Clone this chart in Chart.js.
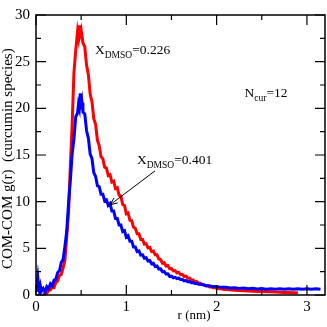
<!DOCTYPE html>
<html><head><meta charset="utf-8">
<script src="https://cdn.jsdelivr.net/npm/chart.js@4/dist/chart.umd.min.js"></script>
<style>html,body{margin:0;padding:0;background:#fff;}canvas{display:block;}</style>
</head><body>
<canvas id="c" width="327" height="327"></canvas>
<script>
// X_DMSO = 0.226 (red)
const rRed = [0.08,0.10,0.12,0.14,0.16,0.18,0.20,0.22,0.24,0.26,0.28,0.30,0.32,0.34,0.36,0.38,0.40,0.42,0.44,0.46,0.47,0.48,0.49,0.50,0.52,0.54,0.56,0.58,0.60,0.62,0.64,0.66,0.68,0.70,0.72,0.74,0.76,0.78,0.80,0.82,0.84,0.86,0.88,0.90,0.92,0.94,0.96,0.98,1.00,1.02,1.04,1.06,1.08,1.10,1.12,1.14,1.16,1.18,1.20,1.22,1.24,1.26,1.28,1.30,1.32,1.34,1.36,1.38,1.40,1.42,1.44,1.46,1.48,1.50,1.52,1.54,1.56,1.58,1.60,1.62,1.64,1.66,1.68,1.70,1.72,1.74,1.76,1.78,1.80,1.82,1.84,1.86,1.88,1.90,1.92,1.94,1.96,1.98,2.00,2.04,2.08,2.12,2.16,2.20,2.25,2.30,2.35,2.40,2.45,2.50,2.55,2.60,2.65,2.70,2.75,2.80,2.85,2.90];
const gRed = [0.0,0.15,0.2,0.5,0.55,0.85,0.8,1.35,1.5,2.1,2.2,2.9,3.7,6.2,8.8,13.8,18.2,23.8,26.2,28.2,27.6,28.9,28.0,28.4,27.0,26.6,24.6,23.6,21.5,20.7,18.9,18.3,16.6,16.0,14.8,14.6,13.7,13.6,12.8,12.9,12.1,12.2,11.4,11.5,10.7,10.6,9.7,9.6,8.7,8.8,8.0,7.95,7.25,7.15,6.55,6.55,5.95,5.95,5.45,5.5,5.05,5.1,4.65,4.7,4.3,4.3,3.85,3.8,3.4,3.45,3.1,3.15,2.82,2.83,2.58,2.62,2.38,2.42,2.18,2.22,1.98,2.02,1.79,1.81,1.6,1.6,1.41,1.44,1.26,1.26,1.12,1.11,0.99,0.99,0.87,0.88,0.78,0.79,0.7,0.68,0.6,0.59,0.53,0.52,0.47,0.45,0.42,0.4,0.38,0.37,0.35,0.34,0.31,0.3,0.28,0.27,0.25,0.25];
// X_DMSO = 0.401 (blue)
const rBlue = [0.00,0.01,0.02,0.03,0.04,0.05,0.06,0.08,0.10,0.12,0.14,0.16,0.18,0.20,0.22,0.24,0.26,0.28,0.30,0.32,0.34,0.36,0.38,0.40,0.42,0.44,0.46,0.47,0.48,0.49,0.50,0.51,0.52,0.54,0.56,0.58,0.60,0.62,0.64,0.66,0.68,0.70,0.72,0.74,0.76,0.78,0.80,0.82,0.84,0.86,0.88,0.90,0.92,0.94,0.96,0.98,1.00,1.02,1.04,1.06,1.08,1.10,1.12,1.14,1.16,1.18,1.20,1.22,1.24,1.26,1.28,1.30,1.32,1.34,1.36,1.38,1.40,1.42,1.44,1.46,1.48,1.50,1.52,1.54,1.56,1.58,1.60,1.62,1.64,1.66,1.68,1.70,1.72,1.74,1.76,1.78,1.80,1.84,1.88,1.92,1.96,2.00,2.05,2.10,2.15,2.20,2.25,2.30,2.35,2.40,2.45,2.50,2.55,2.60,2.65,2.70,2.75,2.80,2.85,2.90,2.95,3.00,3.05,3.10,3.15];
const gBlue = [0.5,1.1,1.9,0.9,0.3,0.9,0.4,0.7,0.3,0.9,0.7,1.2,1.0,1.6,1.7,2.4,2.6,3.5,3.8,5.2,6.8,9.8,12.2,15.1,16.7,19.1,19.5,20.4,20.0,21.6,19.9,20.6,19.6,19.4,17.6,16.8,15.1,14.6,13.1,12.7,11.7,11.6,10.8,10.8,10.1,10.2,9.6,9.8,9.0,9.0,8.2,8.2,7.5,7.5,6.8,6.9,6.2,6.35,5.75,5.75,5.15,5.15,4.65,4.72,4.28,4.3,3.95,4.0,3.65,3.7,3.35,3.4,3.05,3.1,2.78,2.8,2.5,2.52,2.25,2.27,2.0,2.02,1.85,1.9,1.76,1.8,1.66,1.66,1.52,1.55,1.42,1.44,1.32,1.35,1.23,1.26,1.15,1.12,1.0,1.0,0.9,0.92,0.82,0.84,0.75,0.78,0.7,0.74,0.67,0.71,0.65,0.69,0.63,0.68,0.62,0.67,0.62,0.67,0.61,0.66,0.61,0.66,0.61,0.66,0.62];

const xMajor = [0,1,2,3];
const xMinor = [0.5,1.5,2.5];
const yMajor = [0,5,10,15,20,25,30];
const yMinor = [2.5,7.5,12.5,17.5,22.5,27.5];
const xTitle = 'r (nm)';
const yTitle = 'COM-COM g(r)  (curcumin species)';
const labels = [
  {main:'X', sub:'DMSO', tail:'=0.226', r:0.653, g:26.3},
  {main:'X', sub:'DMSO', tail:'=0.401', r:1.118, g:14.5},
  {main:'N', sub:'cur', tail:'=12', r:2.31, g:21.7}
];
const arrow = {r0:1.318, g0:13.3, r1:0.82, g1:9.66};

const toPts = (xs, ys) => xs.map((x,i)=>({x:x, y:ys[i]}));
const FONT = 'Liberation Serif';

const framePlugin = {
  id:'frame',
  afterDraw(chart){
    const {ctx, chartArea:a, scales:{x, y}} = chart;
    ctx.save();
    ctx.strokeStyle = '#000';
    ctx.lineWidth = 1.5;
    ctx.strokeRect(a.left, a.top, a.right-a.left, a.bottom-a.top);
    ctx.lineWidth = 1.2;
    ctx.beginPath();
    const tx = (v,len)=>{const p=x.getPixelForValue(v);ctx.moveTo(p,a.bottom);ctx.lineTo(p,a.bottom-len);ctx.moveTo(p,a.top);ctx.lineTo(p,a.top+len);};
    const ty = (v,len)=>{const p=y.getPixelForValue(v);ctx.moveTo(a.left,p);ctx.lineTo(a.left+len,p);ctx.moveTo(a.right,p);ctx.lineTo(a.right-len,p);};
    xMajor.forEach(v=>tx(v,10)); xMinor.forEach(v=>tx(v,5));
    yMajor.forEach(v=>ty(v,10)); yMinor.forEach(v=>ty(v,5));
    ctx.stroke();
    // titles
    ctx.fillStyle = '#000';
    ctx.font = '13px "'+FONT+'"';
    ctx.textAlign = 'center'; ctx.textBaseline = 'middle';
    ctx.fillText(xTitle, x.getPixelForValue(1.75), 316);
    ctx.save();
    ctx.font = '15px "'+FONT+'"';
    ctx.translate(8, y.getPixelForValue(14.6));
    ctx.rotate(-Math.PI/2);
    ctx.fillText(yTitle, 0, 0);
    ctx.restore();
    // annotations
    ctx.textAlign = 'left'; ctx.textBaseline = 'alphabetic';
    labels.forEach(l=>{
      let px = x.getPixelForValue(l.r), py = y.getPixelForValue(l.g) + 4.5;
      ctx.font = '13.5px "'+FONT+'"';
      ctx.fillText(l.main, px, py); px += ctx.measureText(l.main).width;
      ctx.font = '9.5px "'+FONT+'"';
      ctx.fillText(l.sub, px, py+4); px += ctx.measureText(l.sub).width;
      ctx.font = '13.5px "'+FONT+'"';
      ctx.fillText(l.tail, px, py);
    });
    // arrow
    const x0=x.getPixelForValue(arrow.r0), y0=y.getPixelForValue(arrow.g0);
    const x1=x.getPixelForValue(arrow.r1), y1=y.getPixelForValue(arrow.g1);
    ctx.lineWidth = 1;
    ctx.beginPath(); ctx.moveTo(x0,y0); ctx.lineTo(x1,y1); ctx.stroke();
    const ang = Math.atan2(y1-y0, x1-x0), L=8, w=0.4;
    ctx.beginPath();
    ctx.moveTo(x1 - L*Math.cos(ang-w), y1 - L*Math.sin(ang-w));
    ctx.lineTo(x1,y1);
    ctx.lineTo(x1 - L*Math.cos(ang+w), y1 - L*Math.sin(ang+w));
    ctx.stroke();
    ctx.restore();
  }
};

new Chart(document.getElementById('c'), {
  type:'scatter',
  data:{datasets:[
    {label:'X_DMSO=0.401', data:toPts(rBlue,gBlue), borderColor:'#0000ff', backgroundColor:'#0000ff', showLine:true, pointRadius:0, borderWidth:3, tension:0},
    {label:'X_DMSO=0.226', data:toPts(rRed,gRed), borderColor:'#ff0000', backgroundColor:'#ff0000', showLine:true, pointRadius:0, borderWidth:3, tension:0}
  ]},
  options:{
    responsive:false, animation:false, devicePixelRatio:1,
    layout:{padding:{top:6, right:2, left:0, bottom:0}},
    plugins:{legend:{display:false}, tooltip:{enabled:false}},
    scales:{
      x:{type:'linear', min:0, max:3.2,
        grid:{display:false, drawTicks:false}, border:{display:false},
        afterBuildTicks(s){s.ticks = xMajor.map(v=>({value:v}));},
        ticks:{color:'#000', font:{family:FONT, size:15}, padding:3, maxRotation:0, autoSkip:false},
        afterFit(s){s.height=32;}},
      y:{type:'linear', min:0, max:30,
        grid:{display:false, drawTicks:false}, border:{display:false},
        afterBuildTicks(s){s.ticks = yMajor.map(v=>({value:v}));},
        ticks:{color:'#000', font:{family:FONT, size:15}, padding:6, autoSkip:false},
        afterFit(s){s.width=36;}}
    }
  },
  plugins:[framePlugin]
});
</script>
</body></html>
